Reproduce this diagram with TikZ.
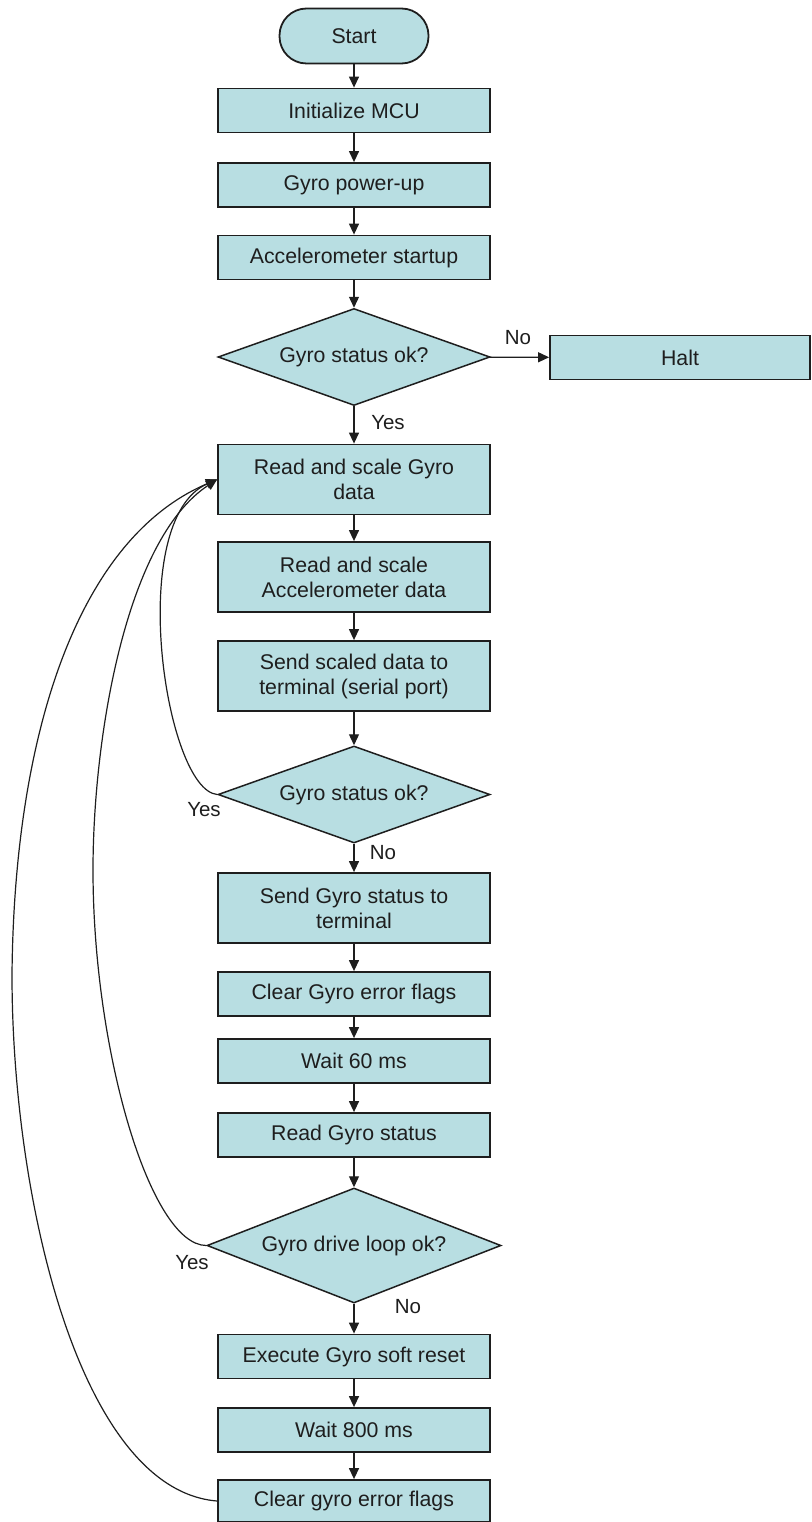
\documentclass[tikz,border=0pt]{standalone}
\usepackage{fontspec}
\setmainfont{Liberation Sans}
\usetikzlibrary{shapes.geometric,arrows.meta}
\definecolor{boxfill}{RGB}{184,222,226}
\definecolor{ink}{RGB}{30,30,30}
\begin{document}
\begin{tikzpicture}[x=1pt,y=-1pt,
  every node/.style={font=\fontsize{21.3}{25}\selectfont, text=ink},
  proc/.style={draw=ink, line width=1.8pt, fill=boxfill, minimum width=272pt, minimum height=44pt, inner sep=0pt, align=center},
  proctwo/.style={proc, minimum height=70pt},
  decision/.style={diamond, draw=ink, line width=1.5pt, fill=boxfill, inner sep=0pt, minimum width=272pt, minimum height=97pt, aspect=2.8},
  termnode/.style={draw=ink, line width=1.8pt, fill=boxfill, rounded corners=27pt, minimum width=149pt, minimum height=55pt, inner sep=0pt},
  flow/.style={draw=ink, line width=1.3pt, -{Triangle[length=11pt,width=10pt]}},
  loopline/.style={draw=ink, line width=1.2pt, -{Triangle[length=11pt,width=10pt]}},
  lbl/.style={inner sep=0pt, font=\fontsize{20.5}{24}\selectfont}
]
\useasboundingbox (0,0) rectangle (811,1522);

\node[termnode] (start) at (354,36) {Start};
\node[proc] (init) at (354,110.5) {Initialize MCU};
\node[proc] (gup) at (354,185) {Gyro power-up};
\node[proc] (acc) at (354,257.5) {Accelerometer startup};
\node[decision] (d1) at (354,357) {Gyro status ok?};
\node[proc, minimum width=260pt] (halt) at (680,357.5) {Halt};
\node[proctwo] (rg) at (354,479.5) {Read and scale Gyro\\data};
\node[proctwo] (ra) at (354,577) {Read and scale\\Accelerometer data};
\node[proctwo] (ss) at (354,676) {Send scaled data to\\terminal (serial port)};
\node[decision] (d2) at (354,794.5) {Gyro status ok?};
\node[proctwo] (sg) at (354,908) {Send Gyro status to\\terminal};
\node[proc] (cg) at (354,994) {Clear Gyro error flags};
\node[proc] (w60) at (354,1061) {Wait 60 ms};
\node[proc] (rs) at (354,1135) {Read Gyro status};
\node[decision, minimum width=294pt, minimum height=115pt, aspect=2.56] (d3) at (354,1245.5) {Gyro drive loop ok?};
\node[proc] (ex) at (354,1356.5) {Execute Gyro soft reset};
\node[proc] (w800) at (354,1430) {Wait 800 ms};
\node[proc, minimum height=42pt] (cl) at (354,1501) {Clear gyro error flags};

% labels
\node[lbl] (lno1) at (518,338) {No};
\node[lbl] (lyes1) at (388,423) {Yes};
\node[lbl] (lyes2) at (204,810) {Yes};
\node[lbl] (lno2) at (383,853) {No};
\node[lbl] (lyes3) at (192,1263) {Yes};
\node[lbl] (lno3) at (408,1307) {No};

% main flow
\draw[flow] (start) -- (init);
\draw[flow] (init) -- (gup);
\draw[flow] (gup) -- (acc);
\draw[flow] (acc) -- (d1);
\draw[flow] (d1) -- (halt);
\draw[flow] (d1) -- (rg);
\draw[flow] (rg) -- (ra);
\draw[flow] (ra) -- (ss);
\draw[flow] (ss) -- (d2);
\draw[flow] (d2) -- (sg);
\draw[flow] (sg) -- (cg);
\draw[flow] (cg) -- (w60);
\draw[flow] (w60) -- (rs);
\draw[flow] (rs) -- (d3);
\draw[flow] (d3) -- (ex);
\draw[flow] (ex) -- (w800);
\draw[flow] (w800) -- (cl);

% loop-back curves
\coordinate (m2) at (93,870);
\coordinate (m3) at (12,975);
\draw[loopline] (d2.west) .. controls (165,790) and (125,520) .. (rg.west);
\draw[loopline] (d3.west) .. controls (150,1245) and (93,1050) .. (m2)
                           .. controls (93,740) and (125,540) .. (rg.west);
\draw[loopline] (cl.west) .. controls (80,1490) and (12,1200) .. (m3)
                           .. controls (14,740) and (75,540) .. (rg.west);
\end{tikzpicture}
\end{document}
